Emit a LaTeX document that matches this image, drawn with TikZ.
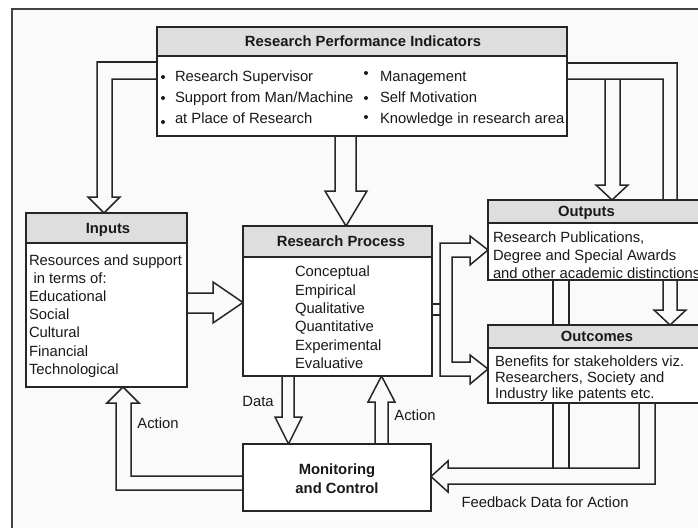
\documentclass[tikz,border=0pt]{standalone}
\usepackage{fontspec}
\setmainfont{Liberation Sans}
\definecolor{linec}{RGB}{38,38,38}
\definecolor{framec}{RGB}{68,68,68}
\definecolor{hdrgray}{RGB}{222,222,222}
\definecolor{bgc}{RGB}{250,250,250}
\definecolor{txtc}{RGB}{25,25,25}
\begin{document}
\begin{tikzpicture}[x=1pt,y=-1pt,line join=miter,
  every node/.style={inner sep=0pt,outer sep=0pt,text=txtc},
  box/.style={rectangle,draw=linec,line width=1.5pt,fill=white},
  hdr/.style={rectangle,draw=linec,line width=1.5pt,fill=hdrgray},
  title/.style={font=\fontsize{14.8}{18}\selectfont\bfseries,text height=10.6pt,text depth=0pt},
  label/.style={font=\fontsize{14.8}{18}\selectfont,text height=10.6pt,text depth=0pt},
  body/.style={font=\fontsize{14.8}{#1}\selectfont,align=left,anchor=north west},
  blockarrow/.style={draw=linec,line width=1.5pt},
  dot/.style={fill=txtc}]
\useasboundingbox (0,0) rectangle (698,527);
\clip (0,0) rectangle (698,527);
\fill[white] (0,0) rectangle (698,527);
% page frame
\fill[bgc] (12,9) rectangle (720,540);
\draw[framec,line width=2pt] (12,540) -- (12,9) -- (720,9);

% ---------- block arrows (drawn below the boxes) ----------
% indicators -> inputs
\draw[blockarrow] (157,62) -- (97,62) -- (97,197) -- (88,197) -- (104,213)
  -- (120,197) -- (112,197) -- (112,79) -- (157,79);
% indicators -> research process
\draw[blockarrow] (335,136) -- (335,191) -- (325,191) -- (346,226)
  -- (367,191) -- (356,191) -- (356,136);
% indicators -> outcomes (wide band on the right)
\draw[blockarrow] (567,63) -- (677,63) -- (677,310) -- (686,310) -- (670,325)
  -- (654,310) -- (663,310) -- (663,79) -- (567,79);
% branch of the band -> outputs
\draw[blockarrow] (605,79) -- (605,185) -- (596,185) -- (612,200)
  -- (628,185) -- (620,185) -- (620,79);
% inputs -> research process
\draw[blockarrow] (187,293) -- (213,293) -- (213,282) -- (243,302.5)
  -- (213,323) -- (213,313) -- (187,313);
% research process -> outputs / outcomes fork
\draw[blockarrow] (432,304) -- (440,304) (432,315) -- (440,315);
\draw[blockarrow] (470,243) -- (440,243) -- (440,376) -- (470,376) -- (470,384)
  -- (488,369) -- (470,355) -- (470,362) -- (452,362) -- (452,257)
  -- (470,257) -- (470,265) -- (488,250) -- (470,236) -- cycle;
% data: research process -> monitoring
\draw[blockarrow] (282,376) -- (282,417) -- (275,417) -- (288.5,444)
  -- (302,417) -- (294,417) -- (294,376);
% action: monitoring -> research process
\draw[blockarrow] (375,444) -- (375,402) -- (368,402) -- (381.5,376)
  -- (395,402) -- (388,402) -- (388,444);
% action: monitoring -> inputs
\draw[blockarrow] (243,476) -- (131,476) -- (131,403) -- (139,403) -- (123,387)
  -- (107,403) -- (116,403) -- (116,490) -- (243,490);
% feedback: outcomes -> monitoring
\draw[blockarrow] (639,403) -- (639,468) -- (448,468) -- (448,461) -- (431,476.5)
  -- (448,492) -- (448,484) -- (655,484) -- (655,403);
% outputs joining the feedback band
\draw[blockarrow] (553,280) -- (553,468) (569,280) -- (569,468);

% ---------- boxes ----------
\node[box,minimum width=410pt,minimum height=109pt] (rpi) at (362,81.5) {};
\node[hdr,minimum width=410pt,minimum height=29pt] (rpiH) at (362,41.5) {};
\node[box,minimum width=161pt,minimum height=174pt] (inputs) at (106.5,300) {};
\node[hdr,minimum width=161pt,minimum height=30pt] (inputsH) at (106.5,228) {};
\node[box,minimum width=189pt,minimum height=150pt] (process) at (337.5,301) {};
\node[hdr,minimum width=189pt,minimum height=31pt] (processH) at (337.5,241.5) {};
\node[box,minimum width=224pt,minimum height=80pt] (outputs) at (600,240) {};
\node[hdr,minimum width=224pt,minimum height=23pt] (outputsH) at (600,211.5) {};
\node[box,minimum width=224pt,minimum height=78pt] (outcomes) at (600,364) {};
\node[hdr,minimum width=224pt,minimum height=23pt] (outcomesH) at (600,336.5) {};
\node[box,minimum width=188pt,minimum height=67pt] (monitor) at (337,477.5) {};

% ---------- titles ----------
\node[title] (rpiT) at (363,41.5) {Research Performance Indicators};
\node[title] (inputsT) at (108,228) {Inputs};
\node[title] (processT) at (341,241.5) {Research Process};
\node[title] (outputsT) at (586.5,211.5) {Outputs};
\node[title] (outcomesT) at (597,336.5) {Outcomes};
\node[font=\fontsize{14.8}{19}\selectfont\bfseries,align=center] (monitorT) at (337,478.4)
  {Monitoring\\and Control};

% ---------- body texts ----------
\node[body=21] (rpiL) at (175,71) {Research Supervisor\\Support from Man/Machine\\at Place of Research};
\node[body=21] (rpiR) at (380,71) {Management\\Self Motivation\\Knowledge in research area};
\fill[dot] (163,77) circle (2pt) (163,98) circle (2pt) (163,122) circle (2pt);
\fill[dot] (366,73) circle (2pt) (366,98) circle (2pt) (366,117) circle (2pt);
\node[body=18.2] (inputsB) at (29,254.4)
  {Resources and support\\\hspace*{4.5pt}in terms of:\\Educational\\Social\\Cultural\\Financial\\Technological};
\node[body=18.4] (processB) at (295,266)
  {Conceptual\\Empirical\\Qualitative\\Quantitative\\Experimental\\Evaluative};
\node[body=18] (outputsB) at (493,232)
  {Research Publications,\\Degree and Special Awards\\and other academic distinctions};
\node[body=16] (outcomesB) at (495,355.4)
  {Benefits for stakeholders viz.\\Researchers, Society and\\Industry like patents etc.};

% ---------- connector labels ----------
\node[label] (dataL) at (258,401) {Data};
\node[label] (actionL) at (158,423) {Action};
\node[label] (actionR) at (415,415) {Action};
\node[label] (feedbackL) at (545,502) {Feedback Data for Action};
\end{tikzpicture}
\end{document}
